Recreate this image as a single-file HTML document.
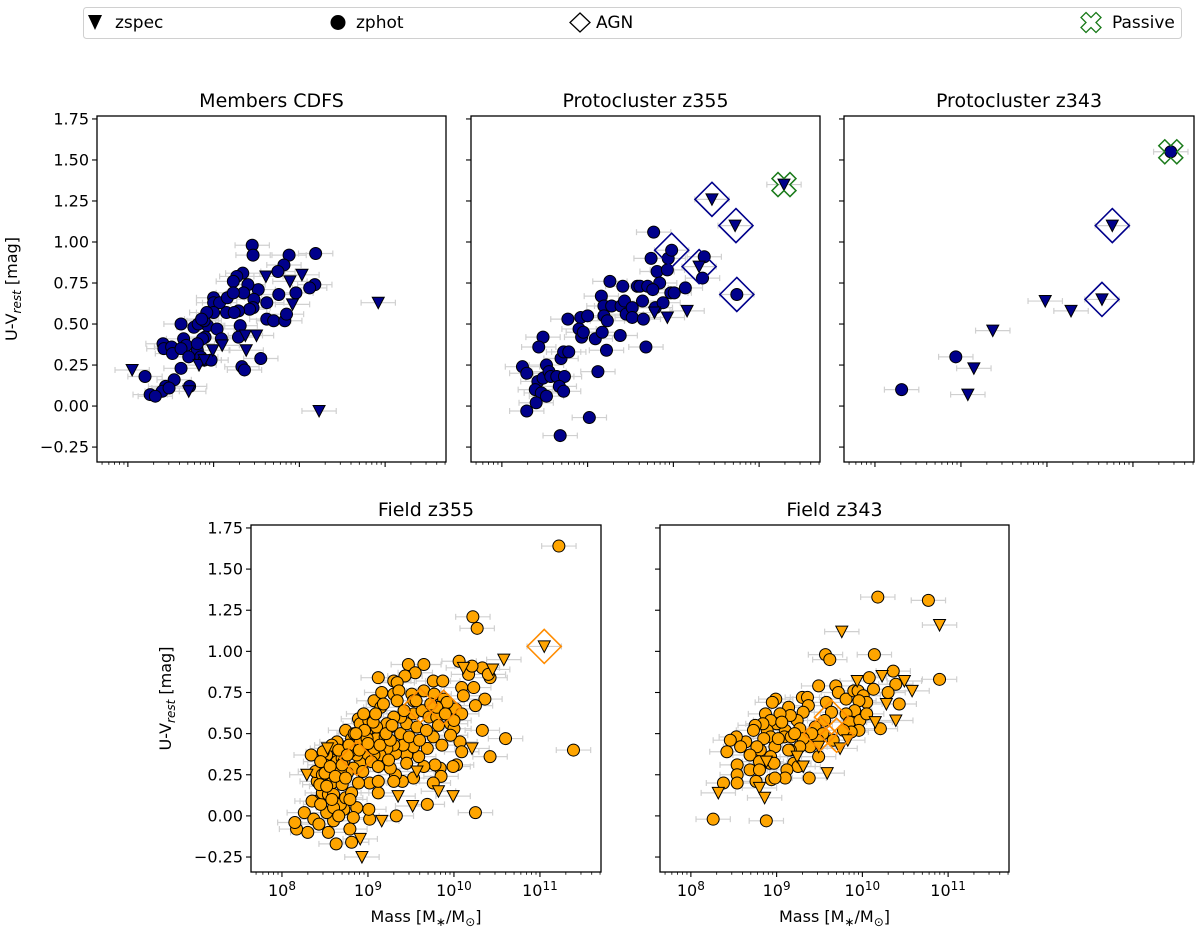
<!DOCTYPE html>
<html><head><meta charset="utf-8">
<style>
html,body{margin:0;padding:0;background:#fff;}
body{width:1200px;height:931px;overflow:hidden;font-family:"Liberation Sans","DejaVu Sans",sans-serif;}
svg text{font-family:"DejaVu Sans","Liberation Sans",sans-serif;}
</style></head>
<body>
<svg id="fig" width="1200" height="931" viewBox="0 0 1200 931" xmlns="http://www.w3.org/2000/svg">
<g id="legend">
<rect x="83.5" y="7.5" width="1098" height="31" rx="3" fill="#fff" stroke="#d0d0d0"/>
<g><polygon points="88,15 102,15 95,30" fill="#000"/><text x="115" y="28" font-size="17">zspec</text></g>
<g><circle cx="338" cy="22.5" r="7.5" fill="#000"/><text x="356" y="28" font-size="17">zphot</text></g>
<g><polygon points="580,13 590,22.5 580,32 570,22.5" fill="none" stroke="#000" stroke-width="1.3"/><text x="596" y="28" font-size="17">AGN</text></g>
<g><polygon id="legcross" fill="none" stroke="#1a7a1a" stroke-width="1.3"/><text x="1112" y="28" font-size="17">Passive</text></g>
</g>
</svg>
<script>
// ---------- data (log10 mass, U-V rest) ----------
const p1CircX=[9.45,9.46,10.19,9.88,9.82,9.75,10.18,10.12,9.96,9.76,9.62,9.62,9.70,9.83,9.85,9.52,9.34,9.27,9.23,9.40,9.35,9.47,9.46,9.42,9.29,9.15,9.24,9.00,9.00,9.07,9.16,9.23,9.00,8.93,9.04,9.09,9.31,9.29,9.33,9.36,9.55,8.62,8.77,8.82,8.89,8.92,8.86,8.90,8.87,8.81,8.85,8.89,8.97,8.65,8.68,8.41,8.42,8.51,8.52,8.62,8.71,8.81,8.62,8.54,8.44,8.40,8.48,8.26,8.32,8.20,8.72];
const p1CircY=[0.98,0.92,0.93,0.92,0.86,0.82,0.74,0.72,0.69,0.68,0.63,0.53,0.52,0.52,0.56,0.71,0.81,0.79,0.76,0.74,0.69,0.65,0.60,0.59,0.58,0.57,0.57,0.66,0.63,0.63,0.66,0.69,0.57,0.49,0.47,0.41,0.49,0.42,0.24,0.22,0.29,0.50,0.48,0.50,0.52,0.57,0.53,0.42,0.41,0.34,0.30,0.28,0.28,0.41,0.37,0.38,0.35,0.36,0.32,0.35,0.30,0.38,0.23,0.16,0.12,0.09,0.11,0.07,0.06,0.18,0.12];
const p1TriX=[8.05,8.71,8.83,8.89,8.99,9.10,9.37,9.50,9.38,9.61,9.89,9.92,10.03,10.23,10.92];
const p1TriY=[0.22,0.09,0.25,0.28,0.34,0.37,0.43,0.43,0.34,0.79,0.76,0.62,0.80,-0.03,0.63];
const p1AgnX=[],p1AgnY=[],p1PasX=[],p1PasY=[];

const p2CircX=[9.77,9.74,9.94,9.98,9.81,9.93,9.84,10.36,10.34,9.26,9.41,9.58,9.61,9.70,9.76,9.97,10.01,10.14,9.16,9.19,9.28,9.39,9.43,9.45,9.52,9.52,9.64,9.65,9.79,9.88,8.77,8.92,9.00,9.19,9.23,8.90,8.93,8.95,9.09,9.17,9.38,8.48,8.43,9.22,9.68,8.69,8.72,8.78,8.24,8.29,8.52,8.42,8.48,8.55,8.57,8.64,8.73,8.39,8.46,8.52,8.67,8.72,8.40,8.29,9.12,9.02,8.68,10.74];
const p2CircY=[1.06,0.90,0.90,0.95,0.82,0.83,0.75,0.91,0.78,0.76,0.73,0.73,0.73,0.73,0.71,0.69,0.69,0.72,0.67,0.61,0.61,0.61,0.64,0.56,0.60,0.54,0.64,0.53,0.60,0.63,0.53,0.54,0.55,0.55,0.52,0.47,0.42,0.45,0.41,0.45,0.43,0.42,0.36,0.34,0.36,0.29,0.33,0.33,0.24,0.20,0.25,0.15,0.17,0.21,0.18,0.18,0.18,0.10,0.08,0.06,0.12,0.09,0.02,-0.03,0.21,-0.07,-0.18,0.68];
const p2TriX=[9.78,9.93,10.16,10.30,10.45,10.72,11.29];
const p2TriY=[0.57,0.54,0.58,0.85,1.26,1.10,1.35];
const p2AgnX=[9.98,10.30,10.45,10.73,10.74];
const p2AgnY=[0.95,0.85,1.26,1.10,0.68];
const p2PasX=[11.29],p2PasY=[1.35];

const p3CircX=[8.31,8.94,11.44];
const p3CircY=[0.10,0.30,1.55];
const p3TriX=[9.08,9.15,9.37,9.98,10.28,10.64,10.76];
const p3TriY=[0.07,0.23,0.46,0.64,0.58,0.65,1.10];
const p3AgnX=[10.64,10.76],p3AgnY=[0.65,1.10];
const p3PasX=[11.44],p3PasY=[1.55];

const p4CircX=[11.22,10.22,10.27,11.39,10.60,10.42,10.25,10.06,10.33,10.36,10.42,10.09,9.69,9.33,9.02,8.81,8.63,8.30,8.17,8.15,8.26,8.37,8.43,8.54,8.34,9.12,9.47,9.65,9.55,9.76,9.87,9.43,9.30,9.34,8.74,9.03,8.89,9.07,9.15,9.16,9.30,9.36,9.51,9.65,9.77,9.88,10.02,10.23,10.25,10.11,10.09,9.96,10.00,10.07,10.09,10.03,9.99,9.84,9.85,9.76,9.78,9.65,9.53,9.45,9.45,9.40,9.32,9.26,9.32,9.30,9.12,9.02,9.12,8.89,9.01,8.87,8.83,8.72,8.60,8.52,8.41,8.35,8.45,8.68,8.74,8.81,8.58,8.70,8.47,8.41,8.39,8.47,8.58,8.64,8.70,8.81,8.91,8.99,9.10,9.20,9.26,9.38,9.45,9.57,9.53,9.63,9.71,9.80,9.84,9.92,10.00,9.96,9.76,9.86,9.69,9.59,9.53,9.41,9.30,9.22,9.14,9.07,8.95,8.91,8.83,8.76,8.68,8.91,8.99,9.07,9.14,9.26,9.38,9.30,9.22,9.10,9.01,8.95,9.80,9.53,10.17,10.33,10.21,10.40,8.87,8.79,8.70,8.52,8.64,8.58,8.48,8.50,8.45,8.54,8.60,8.79,8.79,9.06,9.21,
 8.50,8.56,8.62,8.66,8.72,8.78,8.84,8.90,8.96,9.04,9.09,9.18,9.24,9.28,9.34,9.42,9.48,9.56,9.60,9.68,9.73,9.82,9.90,8.44,8.52,8.60,8.70,8.76,8.86,8.94,9.00,9.12,8.58,8.66,8.74];
const p4CircY=[1.64,1.21,1.14,0.40,0.47,0.36,0.02,0.94,0.52,0.71,0.84,0.78,0.07,0.00,-0.02,-0.16,-0.17,-0.10,-0.08,-0.04,0.02,-0.02,-0.05,-0.10,0.37,0.84,0.92,0.92,0.87,0.82,0.82,0.85,0.82,0.81,0.52,0.57,0.59,0.70,0.66,0.75,0.74,0.76,0.74,0.76,0.74,0.71,0.65,0.78,0.67,0.73,0.62,0.56,0.53,0.45,0.39,0.31,0.30,0.29,0.24,0.20,0.31,0.30,0.23,0.37,0.32,0.21,0.25,0.29,0.38,0.21,0.14,0.20,0.21,0.20,0.04,0.05,-0.01,0.04,-0.03,0.02,0.09,0.09,0.07,0.07,0.11,0.14,0.20,0.19,0.14,0.21,0.27,0.25,0.34,0.33,0.42,0.47,0.56,0.52,0.47,0.48,0.54,0.50,0.56,0.54,0.62,0.64,0.60,0.60,0.66,0.69,0.58,0.49,0.48,0.43,0.41,0.36,0.42,0.43,0.43,0.41,0.37,0.37,0.37,0.32,0.29,0.26,0.27,0.45,0.47,0.41,0.43,0.46,0.60,0.60,0.56,0.54,0.58,0.62,0.66,0.70,0.86,0.90,0.91,0.86,0.37,0.39,0.35,0.37,0.45,0.43,0.39,0.31,0.33,0.13,0.13,0.10,-0.08,0.57,0.50,
 0.26,0.30,0.24,0.40,0.33,0.43,0.50,0.40,0.52,0.33,0.62,0.68,0.34,0.55,0.70,0.64,0.48,0.70,0.46,0.52,0.68,0.55,0.62,0.19,0.18,0.05,0.31,0.37,0.50,0.27,0.44,0.30,0.10,0.00,0.23];
const p4TriX=[11.05,10.58,10.45,10.21,9.99,9.52,9.35,9.16,8.93,8.91,8.29,8.53,9.82,9.57,10.11];
const p4TriY=[1.03,0.95,0.89,0.41,0.12,0.06,0.12,-0.03,-0.25,-0.14,0.25,0.41,0.15,0.27,0.90];
const p4AgnX=[11.05,9.61,9.88,8.87],p4AgnY=[1.03,0.67,0.66,0.35];
const p4PasX=[],p4PasY=[];

const p5CircX=[10.18,10.77,9.57,9.62,10.14,10.90,10.36,10.08,10.39,10.30,10.13,10.43,10.21,9.49,9.69,9.72,9.81,9.90,9.95,10.01,10.05,9.96,9.91,9.81,9.85,9.97,10.05,9.96,9.87,9.78,9.66,9.58,9.64,9.56,9.45,9.54,9.48,9.41,9.39,9.49,9.38,9.30,9.36,9.37,9.31,9.24,9.27,9.31,9.27,9.20,9.25,9.12,9.10,9.16,9.14,9.16,9.04,9.10,9.09,9.17,9.14,9.00,8.99,8.95,8.87,8.93,8.89,8.84,8.75,8.73,8.93,8.85,8.98,9.02,8.81,8.77,8.69,8.64,8.53,8.46,8.42,8.58,8.93,8.92,8.97,8.80,8.69,8.80,8.54,8.54,8.54,8.76,8.94,8.98,8.38,8.26,8.88,9.06,9.21];
const p5CircY=[1.33,1.31,0.98,0.95,0.98,0.83,0.88,0.84,0.80,0.75,0.77,0.68,0.53,0.79,0.79,0.75,0.71,0.76,0.76,0.73,0.69,0.70,0.64,0.62,0.57,0.58,0.62,0.52,0.51,0.52,0.46,0.69,0.63,0.58,0.54,0.50,0.46,0.50,0.42,0.36,0.23,0.72,0.72,0.67,0.63,0.58,0.53,0.47,0.42,0.32,0.30,0.28,0.23,0.40,0.66,0.61,0.62,0.52,0.48,0.48,0.40,0.56,0.71,0.69,0.62,0.58,0.52,0.56,0.55,0.52,0.48,0.47,0.42,0.47,0.40,0.42,0.37,0.45,0.48,0.46,0.39,0.42,0.36,0.32,0.32,0.33,0.28,0.28,0.31,0.25,0.20,0.21,0.22,0.23,0.20,-0.02,-0.03,0.57,0.50];
const p5TriX=[10.90,9.76,9.94,10.23,10.49,10.58,10.28,10.39,10.15,9.83,9.74,9.49,9.59,9.24,9.31,8.88,8.80,8.86,8.32];
const p5TriY=[1.16,1.12,0.82,0.85,0.82,0.76,0.68,0.58,0.57,0.46,0.41,0.42,0.26,0.36,0.30,0.33,0.17,0.11,0.14];
const p5AgnX=[9.64,9.70,9.51],p5AgnY=[0.60,0.49,0.50];
const p5PasX=[],p5PasY=[];

const yTicks=[-0.25,0,0.25,0.5,0.75,1.0,1.25,1.5,1.75];
const yTickLabels=["\u22120.25","0.00","0.25","0.50","0.75","1.00","1.25","1.50","1.75"];
const xDecades=[8,9,10,11];
const XMIN=7.64,XMAX=11.71,YMIN=-0.341,YMAX=1.768;

const NS="http://www.w3.org/2000/svg";
const fig=document.getElementById('fig');
function mk(tag,attrs,parent){const e=document.createElementNS(NS,tag);for(const k in attrs)e.setAttribute(k,attrs[k]);(parent||fig).appendChild(e);return e;}
function crossPts(cx,cy,s,a){
  const p=[[-a,-s],[0,-s+a],[a,-s],[s,-a],[s-a,0],[s,a],[a,s],[0,s-a],[-a,s],[-s,a],[-s+a,0],[-s,-a]];
  return p.map(q=>(cx+q[0])+','+(cy+q[1])).join(' ');
}
document.getElementById('legcross').setAttribute('points',crossPts(1091,22.5,10,5));

const panels=[
 {name:'members-cdfs',title:'Members CDFS',L:97,T:116,W:349,H:346,ylab:true,xlab:false,fill:'#00008b',agn:'#00008b',
  cx:p1CircX,cy:p1CircY,tx:p1TriX,ty:p1TriY,ax:p1AgnX,ay:p1AgnY,px:p1PasX,py:p1PasY},
 {name:'protocluster-z355',title:'Protocluster z355',L:471,T:116,W:349,H:346,ylab:false,xlab:false,fill:'#00008b',agn:'#00008b',
  cx:p2CircX,cy:p2CircY,tx:p2TriX,ty:p2TriY,ax:p2AgnX,ay:p2AgnY,px:p2PasX,py:p2PasY},
 {name:'protocluster-z343',title:'Protocluster z343',L:844,T:116,W:350,H:346,ylab:false,xlab:false,fill:'#00008b',agn:'#00008b',
  cx:p3CircX,cy:p3CircY,tx:p3TriX,ty:p3TriY,ax:p3AgnX,ay:p3AgnY,px:p3PasX,py:p3PasY},
 {name:'field-z355',title:'Field z355',L:251,T:525,W:350,H:347,ylab:true,xlab:true,fill:'#ffa500',agn:'#ff8c00',
  cx:p4CircX,cy:p4CircY,tx:p4TriX,ty:p4TriY,ax:p4AgnX,ay:p4AgnY,px:p4PasX,py:p4PasY},
 {name:'field-z343',title:'Field z343',L:660,T:525,W:349,H:347,ylab:false,xlab:true,fill:'#ffa500',agn:'#ff8c00',
  cx:p5CircX,cy:p5CircY,tx:p5TriX,ty:p5TriY,ax:p5AgnX,ay:p5AgnY,px:p5PasX,py:p5PasY}
];

panels.forEach(p=>{
  const g=mk('g',{});
  
  
  const X=v=>p.L+(v-XMIN)/(XMAX-XMIN)*p.W;
  const Y=v=>p.T+(YMAX-v)/(YMAX-YMIN)*p.H;
  const t=mk('text',{x:p.L+p.W/2,y:p.T-9,'font-size':19,'text-anchor':'middle'},g);
  t.textContent=p.title;
  
  
  const eb=mk('g',{stroke:'#d0d0d0','stroke-width':1.2},g);
  
  
  const allX=p.cx.concat(p.tx),allY=p.cy.concat(p.ty);
  allX.forEach((v,i)=>{
    const x1=X(v-0.2),x2=X(v+0.2),y=Y(allY[i]);
    mk('line',{x1:x1,y1:y,x2:x2,y2:y},eb);
    mk('line',{x1:x1,y1:y-3,x2:x1,y2:y+3},eb);
    mk('line',{x1:x2,y1:y-3,x2:x2,y2:y+3},eb);
  });
  p.cx.forEach((v,i)=>{
    const c=mk('circle',{cx:X(v),cy:Y(p.cy[i]),r:6,fill:p.fill,stroke:'#000','stroke-width':1},g);
    
    
  });
  p.tx.forEach((v,i)=>{
    const x=X(v),y=Y(p.ty[i]);
    const tr=mk('polygon',{points:(x-6)+','+(y-5.5)+' '+(x+6)+','+(y-5.5)+' '+x+','+(y+6)},g);
    tr.setAttribute('fill',p.fill);tr.setAttribute('stroke','#000');tr.setAttribute('stroke-width','1');
    
    
  });
  p.ax.forEach((v,i)=>{
    const x=X(v),y=Y(p.ay[i]),s=17;
    const d=mk('polygon',{points:x+','+(y-s)+' '+(x+s)+','+y+' '+x+','+(y+s)+' '+(x-s)+','+y,fill:'none',stroke:p.agn,'stroke-width':1.6},g);
    
    
  });
  p.px.forEach((v,i)=>{
    const c=mk('polygon',{points:crossPts(X(v),Y(p.py[i]),12,6),fill:'none',stroke:'#1a7a1a','stroke-width':1.5},g);
    
    
  });
  const fr=mk('rect',{x:p.L,y:p.T,width:p.W,height:p.H,fill:'none',stroke:'#000','stroke-width':1.3},g);
  
  
  yTicks.forEach((v,i)=>{
    const y=Y(v);
    mk('line',{x1:p.L-5,y1:y,x2:p.L,y2:y,stroke:'#000','stroke-width':1.1},g);
    if(p.ylab){
      const tl=mk('text',{x:p.L-8,y:y+5.5,'font-size':16,'text-anchor':'end'},g);
      tl.textContent=yTickLabels[i];
      
      
    }
  });
  for(let d=7;d<=11;d++){
    for(let m=1;m<=9;m++){
      const lv=d+Math.log10(m);
      if(lv<XMIN||lv>XMAX)continue;
      const x=X(lv),len=(m===1)?5:2.8;
      mk('line',{x1:x,y1:p.T+p.H,x2:x,y2:p.T+p.H+len,stroke:'#000','stroke-width':m===1?1.1:0.8},g);
    }
  }
  if(p.xlab){
    xDecades.forEach(d=>{
      const tl=mk('text',{x:X(d),y:p.T+p.H+24,'font-size':16,'text-anchor':'middle'},g);
      
      
      tl.appendChild(document.createTextNode('10'));
      const sp=mk('tspan',{'font-size':12,dy:-6},tl);
      sp.textContent=String(d);
    });
    const xl=mk('text',{x:p.L+p.W/2,y:p.T+p.H+50,'font-size':16,'text-anchor':'middle'},g);
    
    
    xl.appendChild(document.createTextNode('Mass [M'));
    const s1=mk('tspan',{'font-size':12,dy:4},xl);s1.textContent='\u2217';
    const s2=mk('tspan',{dy:-4},xl);s2.textContent='/M';
    const s3=mk('tspan',{'font-size':12,dy:4},xl);s3.textContent='\u2299';
    const s4=mk('tspan',{dy:-4},xl);s4.textContent=']';
  }
  if(p.ylab){
    const cx=p.L-80,cy=p.T+p.H/2;
    const yl=mk('text',{x:cx,y:cy,'font-size':16,'text-anchor':'middle',transform:'rotate(-90 '+cx+' '+cy+')'},g);
    
    
    yl.appendChild(document.createTextNode('U-V'));
    const s1=mk('tspan',{'font-size':12,dy:4,'font-style':'italic'},yl);s1.textContent='rest';
    const s2=mk('tspan',{dy:-4},yl);s2.textContent=' [mag]';
  }
});
</script>
</body></html>
